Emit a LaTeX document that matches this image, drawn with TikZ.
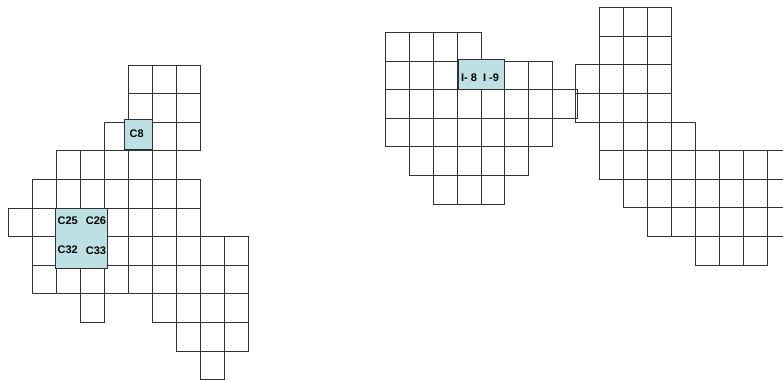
\documentclass[tikz,border=0pt]{standalone}
\usepackage{fontspec}
\setmainfont{Liberation Sans}
\usetikzlibrary{positioning}
\definecolor{cellblue}{RGB}{188,224,228}
\begin{document}
\begin{tikzpicture}[x=1pt,y=-1pt,
  cell/.style={draw=black!80,line width=.8pt},
  hilite/.style={draw=black!80,fill=cellblue,line width=.8pt},
  lab/.style={font=\fontsize{11}{13}\bfseries\selectfont,inner sep=0pt}]
\clip (0,0) rectangle (783,381);
% left block
\begin{scope}[shift={(8,65)},x=24pt,y=-28.6pt]
 \foreach \r/\a/\b in {0/5/7,1/5/7,2/4/7,3/2/6,4/1/7,5/0/7,6/1/9,7/1/9,8/3/3,8/6/9,9/7/9,10/8/8}{
  \foreach \c in {\a,...,\b}{
   \draw[cell] (\c,\r) rectangle +(1,1);
  }
 }
\end{scope}
% right block, upper lobe
\begin{scope}[shift={(385.3,32.3)},x=23.9pt,y=-28.6pt]
 \foreach \r/\a/\b in {0/0/3,1/0/6,2/0/6,3/0/6,4/1/5,5/2/4}{
  \foreach \c in {\a,...,\b}{
   \draw[cell] (\c,\r) rectangle +(1,1);
  }
 }
\end{scope}
% right block, running off the page
\begin{scope}[shift={(575.7,7.3)},x=23.95pt,y=-28.65pt]
 \foreach \r/\a/\b in {0/1/3,1/1/3,2/0/3,3/0/3,4/1/4,5/1/8,6/2/8,7/3/8,8/5/7}{
  \foreach \c in {\a,...,\b}{
   \draw[cell] (\c,\r) rectangle +(1,1);
  }
 }
\end{scope}
\draw[cell] (552.6,89.5) rectangle (577.7,118.1);
% marked cells
\draw[hilite] (124,119.5) rectangle (152.5,149.5);
\draw[hilite] (55.3,208.5) rectangle (107.5,268.7);
\draw[hilite] (458.7,59.3) rectangle (504,89.3);
\node[lab] (c8) at (136.7,133.3) {C8};
\node[lab] (c25) at (67.7,221) {C25};
\node[lab] (c26) at (96,221) {C26};
\node[lab] (c32) at (67.7,250) {C32};
\node[lab] (c33) at (96,251) {C33};
\node[lab] (i8) at (480,78) {I- 8\ \ I -9};
\end{tikzpicture}
\end{document}
